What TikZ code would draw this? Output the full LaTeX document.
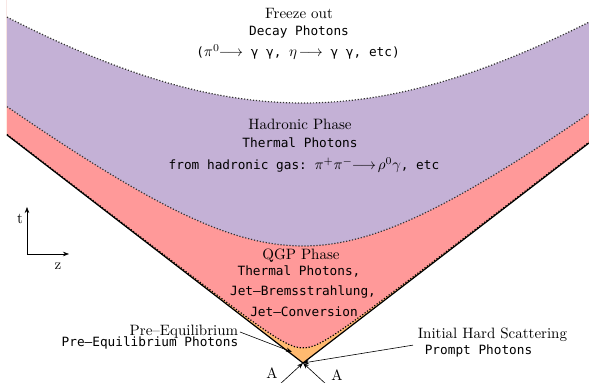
\documentclass[tikz,border=0pt]{standalone}
\usepackage{fontspec}
\setmonofont{DejaVu Sans Mono}[Scale=0.85]
\usepackage{amsmath}
\usetikzlibrary{arrows.meta, positioning}
\definecolor{hadronfill}{RGB}{196,177,214}
\definecolor{qgpfill}{RGB}{255,153,153}
\definecolor{preqfill}{RGB}{255,186,112}
% hyperbola t = sqrt(tau^2 + (k z)^2), tau given in units of 100
\newcommand{\hyp}[1]{plot[domain=-296:286, samples=90] (\x, {100*sqrt((#1)^2 + (0.0077*\x)^2)})}

\begin{document}
\begin{tikzpicture}[x=0.6667pt, y=0.6667pt, >={Stealth[length=4pt,width=3pt]},
  phase/.style={font=\normalsize, inner sep=1pt},
  photons/.style={font=\ttfamily, inner sep=1pt},
  boundary/.style={dash pattern=on 0.8pt off 1.2pt, line width=0.8pt, black!80}]
  \useasboundingbox (-303,-20) rectangle (286,363);

  \coordinate (vtx) at (0,0);
  \coordinate (lcl) at (-296,228);
  \coordinate (lcr) at (286,220);

  % phases
  \fill[preqfill] (lcl) -- (vtx) -- (lcr) -- (286,363) -- (-296,363) -- cycle;
  \fill[qgpfill] \hyp{0.15} -- (286,363) -- (-296,363) -- cycle;
  \fill[hadronfill] \hyp{1.17} -- (286,363) -- (-296,363) -- cycle;
  \fill[white] \hyp{2.6} -- (286,363) -- (-296,363) -- cycle;

  \draw[boundary] \hyp{2.6};
  \draw[boundary] \hyp{1.17};
  \draw[boundary, black] \hyp{0.15};
  \draw[line width=0.8pt] (lcl) -- (vtx) -- (lcr);

  % labels
  \node[phase] (fo) at (-4,350) {Freeze out};
  \node[photons] (fodecay) at (-4,331) {Decay Photons};
  \node[photons] (fochan) at (-5,311) {($\pi^{0}\!\!\longrightarrow$ γ γ, $\eta\!\longrightarrow$ γ γ, etc)};

  \node[phase] (had) at (-3,239) {Hadronic Phase};
  \node[photons] (hadtherm) at (-3,220) {Thermal Photons};
  \node[photons] (hadgas) at (1,198) {from hadronic gas: $\pi^{+}\pi^{-}\!\!\longrightarrow\!\rho^{0}\gamma$, etc};

  \node[phase] (qgp) at (-2,107) {QGP Phase};
  \node[photons] (qgptherm) at (-4,91) {Thermal Photons,};
  \node[photons] (qgpbrems) at (0,71) {Jet–Bremsstrahlung,};
  \node[photons] (qgpconv) at (1,51) {Jet–Conversion};

  \node[phase, anchor=east] (preeq) at (-63,31) {Pre--Equilibrium};
  \node[photons, anchor=east] (preeqph) at (-63,20) {Pre–Equilibrium Photons};

  \node[phase, anchor=west] (ihs) at (113,28) {Initial Hard Scattering};
  \node[photons, anchor=west] (prompt) at (120,12) {Prompt Photons};

  \node[phase] (nucl) at (-31,-10) {A};
  \node[phase] (nucr) at (34,-12) {A};

  \coordinate (preqpt) at (-11,11);
  \coordinate (inl) at (-24,-22);
  \coordinate (inr) at (24,-22);

  \draw[->, thin] (preeq.east) -- (preqpt);
  \draw[->, thin] ([xshift=-2pt, yshift=-1pt]ihs.south west) -- (vtx);
  \draw[->, thin] (inl) -- (vtx);
  \draw[->, thin] (inr) -- (vtx);

  % axes
  \coordinate (ax) at (-276,109);
  \coordinate (axt) at (-276,156);
  \coordinate (axz) at (-234,109);
  \draw[->, thin] (ax) -- (axt);
  \draw[->, thin] (ax) -- (axz);
  \node[phase] (tlab) at (-283,144) {t};
  \node[phase] (zlab) at (-245,97) {z};
\end{tikzpicture}
\end{document}
